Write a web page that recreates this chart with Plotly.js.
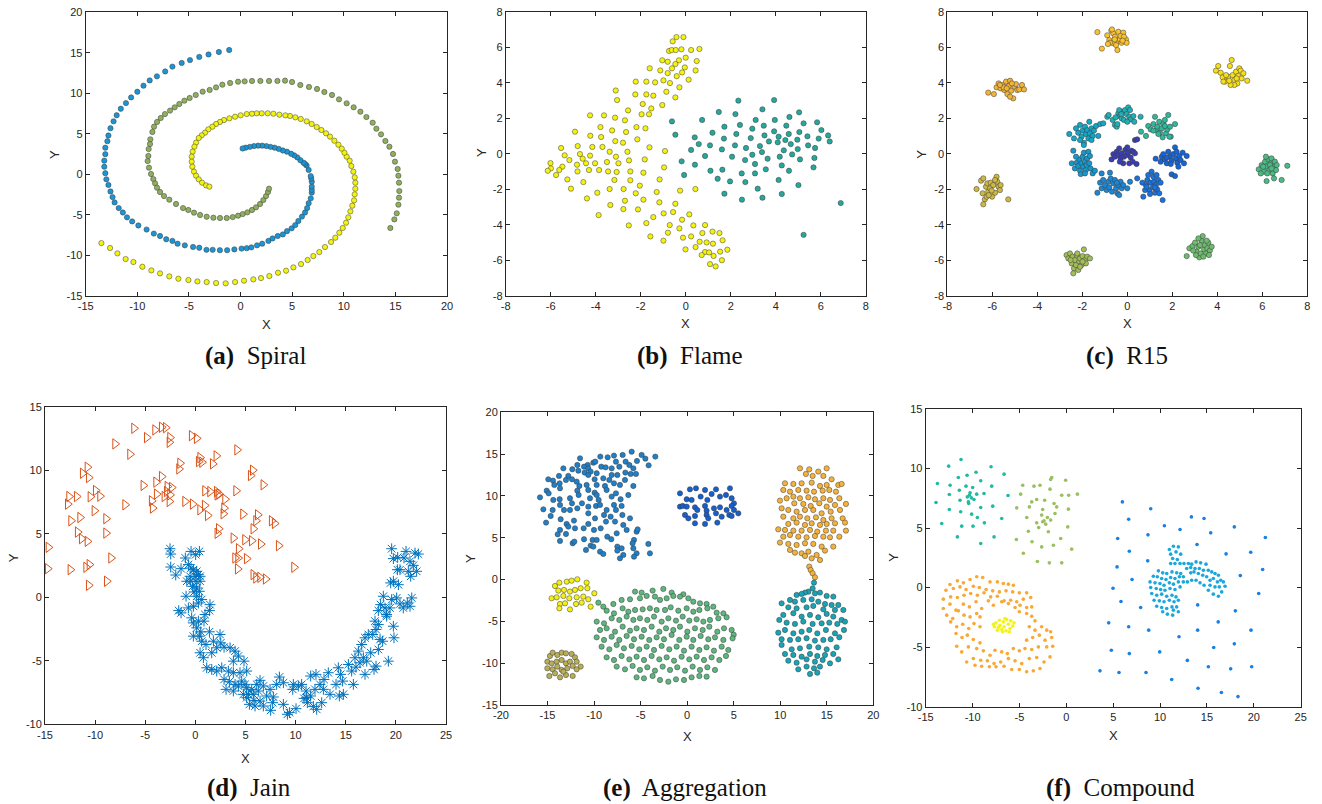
<!DOCTYPE html>
<html><head><meta charset="utf-8">
<script src="https://cdn.plot.ly/plotly-3.0.1.min.js"></script>
<style>html,body{margin:0;padding:0;background:#fff}#chart{width:1322px;height:804px}</style>
</head><body><div id="chart"></div>
<script>
// ---------- (a) Spiral ----------
const spiralBlue=[[-1.1,15.35],[-2.1,15.1],[-3.1,14.8],[-4.0,14.5],[-4.9,14.1],[-5.7,13.75],[-6.6,13.3],[-7.3,12.7],[-8.1,12.1],[-8.8,11.6],[-9.4,10.95],[-10.0,10.2],[-10.6,9.5],[-11.1,8.8],[-11.6,8.1],[-12.0,7.3],[-12.3,6.55],[-12.6,5.7],[-12.8,4.8],[-12.9,4.1],[-13.1,3.3],[-13.1,2.5],[-13.2,1.7],[-13.2,0.95],[-13.1,0.15],[-13.0,-0.6],[-12.8,-1.3],[-12.6,-2.1],[-12.4,-2.8],[-12.2,-3.45],[-11.8,-4.15],[-11.4,-4.7],[-11.0,-5.3],[-10.5,-5.8],[-9.9,-6.3],[-9.1,-6.8],[-8.4,-7.3],[-7.8,-7.6],[-7.2,-8.0],[-6.6,-8.2],[-6.1,-8.55],[-5.4,-8.75],[-4.6,-8.95],[-4.0,-9.05],[-3.3,-9.3],[-2.7,-9.3],[-2.0,-9.35],[-1.3,-9.35],[-0.6,-9.25],[0.1,-9.15],[0.6,-9.1],[1.05,-9.0],[1.6,-8.75],[2.1,-8.55],[2.7,-8.2],[3.1,-7.9],[3.6,-7.6],[4.1,-7.4],[4.5,-7.0],[4.95,-6.65],[5.3,-6.25],[5.6,-5.75],[5.95,-5.2],[6.25,-4.7],[6.45,-4.15],[6.6,-3.55],[6.8,-2.95],[6.9,-2.25],[6.9,-1.9],[6.9,-1.5],[6.9,-0.9],[6.85,-0.5],[6.8,-0.2],[6.6,0.55],[6.4,1.1],[6.25,1.3],[6.1,1.45],[5.8,1.75],[5.5,2.1],[5.2,2.35],[4.9,2.55],[4.5,2.8],[4.1,2.95],[3.7,3.15],[3.3,3.3],[2.9,3.4],[2.5,3.5],[2.1,3.55],[1.7,3.55],[1.3,3.5],[0.9,3.4],[0.5,3.3],[0.2,3.2]];
const spiralOlive=[[14.51,-6.61],[14.9,-5.55],[15.13,-4.8],[15.29,-3.73],[15.35,-2.87],[15.38,-2.05],[15.35,-1.02],[15.29,-0.16],[15.22,0.67],[14.96,1.57],[14.77,2.52],[14.42,3.42],[14.03,4.12],[13.61,4.94],[13.16,5.64],[12.8,6.38],[12.19,7.08],[11.61,7.74],[10.96,8.28],[10.28,8.77],[9.54,9.26],[8.86,9.8],[8.12,10.17],[7.41,10.54],[6.63,10.79],[5.79,11.03],[4.99,11.4],[4.31,11.57],[3.57,11.53],[2.76,11.53],[1.92,11.53],[1.11,11.53],[0.4,11.48],[-0.24,11.44],[-1.01,11.28],[-1.76,11.07],[-2.37,10.74],[-2.99,10.42],[-3.67,10.21],[-4.34,9.8],[-4.93,9.43],[-5.44,9.1],[-5.93,8.69],[-6.38,8.28],[-6.83,7.87],[-7.32,7.45],[-7.73,6.96],[-8.09,6.47],[-8.38,5.89],[-8.54,5.23],[-8.74,4.33],[-8.77,3.75],[-8.9,3.13],[-8.93,2.27],[-9.0,1.65],[-8.87,0.83],[-8.67,0.05],[-8.45,-0.57],[-8.28,-1.1],[-8.09,-1.64],[-7.8,-2.17],[-7.41,-2.67],[-6.9,-3.12],[-6.25,-3.65],[-5.57,-4.15],[-5.06,-4.39],[-4.51,-4.72],[-3.92,-5.01],[-3.28,-5.22],[-2.63,-5.34],[-1.99,-5.38],[-1.34,-5.38],[-0.76,-5.26],[-0.24,-5.09],[0.21,-4.89],[0.66,-4.68],[1.11,-4.39],[1.5,-4.06],[1.89,-3.65],[2.21,-3.16],[2.47,-2.67],[2.66,-2.17],[2.76,-1.76]];
const spiralYellow=[[-13.48,-8.47],[-12.64,-9.08],[-11.93,-9.74],[-11.13,-10.44],[-10.38,-10.81],[-9.51,-11.39],[-8.64,-11.84],[-7.8,-12.21],[-6.9,-12.58],[-6.02,-12.87],[-5.05,-13.03],[-4.18,-13.2],[-3.28,-13.28],[-2.37,-13.4],[-1.44,-13.44],[-0.53,-13.28],[0.34,-13.11],[1.24,-12.95],[1.98,-12.79],[2.79,-12.54],[3.63,-12.13],[4.41,-11.88],[5.12,-11.47],[5.86,-11.06],[6.5,-10.56],[7.05,-10.07],[7.63,-9.58],[8.18,-8.96],[8.77,-8.34],[9.18,-7.81],[9.57,-7.19],[9.9,-6.61],[10.22,-5.96],[10.44,-5.3],[10.64,-4.56],[10.83,-3.86],[11.0,-3.2],[11.06,-2.46],[11.12,-1.76],[11.12,-1.02],[11.06,-0.36],[10.93,0.34],[10.73,1.04],[10.57,1.69],[10.28,2.19],[10.06,2.68],[9.8,3.18],[9.48,3.67],[9.09,4.16],[8.67,4.66],[8.28,5.07],[7.83,5.48],[7.38,5.85],[6.89,6.22],[6.41,6.55],[5.83,6.84],[5.31,7.04],[4.79,7.21],[4.34,7.29],[3.76,7.37],[3.18,7.49],[2.63,7.54],[2.05,7.54],[1.56,7.54],[1.11,7.49],[0.6,7.45],[0.01,7.29],[-0.53,7.12],[-1.08,6.92],[-1.6,6.71],[-1.99,6.47],[-2.37,6.22],[-2.73,5.89],[-3.12,5.56],[-3.44,5.15],[-3.76,4.82],[-4.05,4.49],[-4.31,3.92],[-4.47,3.42],[-4.64,2.81],[-4.73,2.19],[-4.73,1.57],[-4.67,0.95],[-4.51,0.34],[-4.31,-0.16],[-4.05,-0.61],[-3.73,-1.02],[-3.34,-1.35],[-3.02,-1.51]];

// ---------- (b) Flame ----------
const flameYellow=[[-0.41,6.57],[-0.1,6.57],[-0.58,6.33],[-0.74,5.79],[-0.62,5.84],[-0.44,5.84],[-0.19,5.88],[0.24,5.84],[0.61,5.9],[0.0,5.41],[-0.3,5.26],[-1.04,5.26],[-0.8,5.18],[0.49,5.22],[-0.46,5.05],[-1.6,4.81],[-1.13,4.69],[-0.61,4.81],[-0.04,4.86],[0.44,4.69],[-0.8,4.54],[-0.16,4.58],[-0.4,4.37],[-2.22,4.06],[-1.75,4.06],[-1.36,4.02],[-0.99,4.13],[-0.7,3.98],[0.13,4.17],[-0.28,3.74],[-0.86,3.49],[-3.11,3.56],[-2.24,3.34],[-1.75,3.34],[-1.44,3.27],[-0.46,3.17],[-3.05,3.02],[-1.91,2.8],[-1.53,2.55],[-1.04,2.74],[-2.56,2.44],[-4.25,2.16],[-3.63,2.16],[-1.96,2.22],[-1.63,2.22],[-3.14,2.03],[-2.7,1.88],[-3.79,1.5],[-3.27,1.31],[-2.19,1.5],[-1.79,1.43],[-4.92,1.24],[-2.65,1.22],[-4.24,1.01],[-3.76,0.94],[-2.15,0.81],[-3.13,0.71],[-2.79,0.62],[-4.8,0.43],[-4.15,0.38],[-3.7,0.38],[-1.61,0.36],[-5.54,0.32],[-3.38,0.11],[-0.92,0.15],[-2.59,0.11],[-4.7,-0.02],[-5.38,-0.09],[-4.25,-0.11],[-3.1,-0.17],[-5.17,-0.36],[-4.58,-0.28],[-1.82,-0.32],[-6.01,-0.53],[-4.43,-0.54],[-4.03,-0.54],[-3.5,-0.47],[-2.99,-0.54],[-2.52,-0.38],[-5.48,-0.73],[-4.83,-0.62],[-4.3,-0.92],[-5.99,-0.83],[-5.62,-0.92],[-6.13,-0.96],[-4.81,-1.0],[-3.85,-0.92],[-3.45,-1.0],[-3.07,-1.03],[-2.46,-1.0],[-0.96,-0.77],[-5.76,-1.2],[-1.88,-1.07],[-5.26,-1.45],[-4.55,-1.6],[-3.17,-1.48],[-2.46,-1.5],[-1.16,-1.45],[-2.04,-1.8],[-5.1,-1.97],[-3.38,-1.99],[-2.76,-1.99],[-2.22,-2.23],[-1.29,-2.16],[-0.25,-2.08],[0.43,-1.99],[-3.93,-2.2],[-4.39,-2.52],[-1.88,-2.59],[-2.7,-2.65],[-1.17,-2.74],[-0.46,-2.82],[-3.35,-2.89],[-2.12,-3.14],[-2.77,-3.12],[-3.87,-3.46],[-1.44,-3.57],[-0.98,-3.36],[-0.56,-3.29],[0.16,-3.42],[-0.16,-3.72],[-2.53,-4.04],[-1.75,-3.91],[-0.71,-4.02],[0.34,-4.04],[0.86,-4.02],[-0.28,-4.21],[0.74,-4.47],[1.19,-4.39],[1.5,-4.47],[-0.79,-4.45],[-1.57,-4.66],[-0.99,-4.9],[-0.12,-4.73],[0.24,-4.66],[0.62,-4.96],[0.93,-5.0],[1.21,-5.07],[1.64,-4.88],[0.44,-5.26],[-0.01,-5.39],[1.53,-5.52],[0.86,-5.54],[1.04,-5.56],[1.85,-5.41],[0.71,-5.71],[1.24,-5.76],[1.61,-6.0],[1.08,-6.22],[1.33,-6.35]];
const flameTeal=[[-0.61,1.82],[-0.46,1.07],[0.73,1.9],[1.47,2.35],[2.34,2.99],[3.93,3.02],[3.41,2.5],[2.21,2.23],[5.04,2.33],[4.61,2.07],[3.11,1.9],[3.96,1.9],[2.41,1.62],[3.47,1.58],[4.47,1.58],[5.24,1.71],[5.84,1.77],[1.72,1.52],[6.03,1.33],[1.19,1.18],[2.25,1.11],[2.96,1.41],[3.93,1.26],[5.05,1.22],[0.4,0.92],[1.7,0.85],[3.5,1.03],[4.13,0.96],[4.58,1.11],[5.41,0.98],[6.33,1.03],[0.58,0.54],[1.08,0.47],[2.19,0.47],[2.89,0.88],[3.7,0.69],[4.09,0.64],[4.43,0.77],[4.96,0.79],[4.67,0.54],[5.91,0.85],[6.4,0.69],[1.61,0.24],[2.68,0.32],[3.3,0.43],[0.24,0.21],[4.36,0.19],[4.98,0.26],[5.44,0.47],[5.75,0.32],[0.86,-0.13],[2.06,-0.17],[2.96,-0.06],[3.39,0.09],[4.18,-0.17],[4.73,-0.04],[-0.18,-0.43],[2.64,-0.36],[3.64,-0.28],[5.08,-0.32],[5.72,-0.24],[0.41,-0.62],[3.08,-0.58],[4.27,-0.66],[1.1,-0.96],[1.63,-0.9],[2.49,-1.11],[3.08,-1.11],[3.56,-0.88],[4.59,-0.96],[5.68,-0.77],[-0.07,-1.2],[1.42,-1.41],[1.97,-1.56],[2.65,-1.6],[4.13,-1.48],[5.01,-1.77],[3.2,-1.97],[1.72,-2.25],[4.27,-2.27],[2.5,-2.59],[3.41,-2.48],[6.89,-2.78],[5.24,-4.57]];

// ---------- (c) R15 ----------
const r15Top=[[-1.33,6.85],[-1.13,5.92],[-0.89,6.67],[-0.8,6.4],[-0.71,6.93],[-0.62,6.78],[-0.55,6.59],[-0.47,6.31],[-0.4,6.87],[-0.33,6.44],[-0.25,6.25],[-0.18,6.82],[-0.06,6.44],[-0.03,6.25],[-0.44,5.84],[-0.62,6.22],[-0.77,6.25],[-0.5,6.12],[-0.3,6.63],[-0.15,6.59],[-0.86,6.18],[-0.68,7.0],[-0.56,6.44],[-0.21,6.37]];
const r15TopRight=[[3.94,4.68],[4.04,4.94],[4.15,4.56],[4.24,4.3],[4.34,4.06],[4.49,4.34],[4.56,4.94],[4.64,5.28],[4.68,4.43],[4.76,4.15],[4.83,4.62],[4.89,3.96],[4.93,4.38],[4.98,4.81],[5.04,4.68],[5.08,4.24],[5.16,4.53],[5.33,4.11],[4.76,3.87],[4.59,3.87],[4.39,4.43],[4.27,4.06],[4.86,4.24],[4.53,4.11]];
const r15LeftTop=[[-6.18,3.44],[-5.93,3.36],[-5.81,3.74],[-5.72,3.96],[-5.63,3.68],[-5.54,3.87],[-5.47,3.59],[-5.39,4.06],[-5.33,3.36],[-5.27,3.81],[-5.21,4.11],[-5.16,3.55],[-5.07,3.12],[-5.01,3.77],[-4.95,3.92],[-4.89,3.59],[-4.8,3.62],[-4.68,3.87],[-4.59,3.62],[-5.21,3.21],[-5.51,3.74],[-5.66,3.87],[-5.13,3.96],[-5.36,3.68]];
const r15Right=[[5.84,-0.88],[5.97,-0.64],[6.07,-1.01],[6.12,-0.45],[6.19,-0.73],[6.27,-0.32],[6.31,-0.92],[6.37,-0.54],[6.41,-0.26],[6.46,-1.11],[6.49,-0.73],[6.56,-0.45],[6.64,-0.64],[6.19,-1.54],[6.52,-1.39],[6.86,-1.48],[7.11,-0.68],[6.04,-0.73],[6.34,-0.64],[6.22,-1.11],[5.93,-1.11],[6.61,-0.92],[6.16,-0.17],[6.41,-0.83]];
const r15LeftBottom=[[-6.7,-1.99],[-6.5,-1.52],[-6.4,-1.39],[-6.43,-2.23],[-6.33,-2.57],[-6.4,-2.85],[-6.28,-1.86],[-6.22,-1.67],[-6.18,-2.14],[-6.1,-1.95],[-6.07,-1.63],[-6.01,-2.42],[-5.96,-1.77],[-5.88,-2.2],[-5.81,-1.3],[-5.78,-1.58],[-5.72,-1.86],[-5.66,-2.05],[-5.63,-1.77],[-5.29,-2.57],[-6.25,-2.42],[-6.03,-2.08],[-5.88,-1.48],[-6.16,-2.33]];
const r15BottomRight=[[2.64,-5.77],[2.76,-5.33],[2.9,-5.2],[3.01,-5.01],[3.08,-5.52],[3.16,-5.24],[3.2,-5.84],[3.26,-5.62],[3.3,-4.9],[3.35,-4.64],[3.41,-5.39],[3.45,-5.15],[3.5,-5.62],[3.56,-5.33],[3.6,-5.01],[3.67,-5.46],[3.75,-5.24],[3.05,-5.71],[3.23,-5.15],[3.38,-5.8],[2.93,-5.46],[3.53,-4.9],[3.16,-4.77],[3.63,-5.71]];
const r15Bottom=[[-2.7,-5.71],[-2.62,-5.9],[-2.55,-5.62],[-2.47,-6.18],[-2.43,-5.8],[-2.37,-6.46],[-2.33,-5.99],[-2.28,-6.27],[-2.25,-5.71],[-2.22,-5.62],[-2.18,-6.55],[-2.13,-6.08],[-2.1,-5.9],[-2.03,-6.27],[-1.99,-5.77],[-1.93,-5.39],[-1.88,-5.99],[-1.84,-6.18],[-1.78,-5.8],[-1.66,-5.9],[-2.4,-6.74],[-2.1,-6.37],[-2.52,-5.99],[-1.99,-6.08]];
const r15InTop=[[-0.89,2.08],[-0.83,2.18],[-0.65,1.9],[-0.55,1.62],[-0.47,1.52],[-0.44,1.67],[-0.4,2.27],[-0.33,2.12],[-0.25,1.99],[-0.18,2.37],[-0.1,2.46],[-0.03,2.23],[0.04,2.61],[0.09,2.08],[0.15,1.93],[0.12,2.46],[0.27,2.12],[0.31,1.8],[0.59,2.08],[-0.36,2.46],[-0.15,1.9],[0.0,1.8],[-0.52,2.05],[-0.27,2.23]];
const r15InUpRight=[[0.61,1.24],[0.83,1.0],[0.93,1.56],[1.04,1.37],[1.16,1.67],[1.23,2.08],[1.27,1.33],[1.33,1.52],[1.42,1.8],[1.45,1.18],[1.53,1.43],[1.6,1.67],[1.67,1.9],[1.72,1.15],[1.78,1.37],[1.82,2.18],[1.9,1.52],[1.93,0.96],[2.12,1.67],[1.87,0.96],[1.57,0.92],[1.38,1.11],[1.16,1.3],[1.67,1.56]];
const r15InRight=[[1.26,-0.28],[1.48,-0.45],[1.53,-0.17],[1.6,-0.02],[1.67,-0.32],[1.75,-0.54],[1.82,0.11],[1.9,-0.17],[1.97,-0.39],[2.04,-0.02],[2.12,0.36],[2.16,-0.26],[2.22,-0.51],[2.31,-0.13],[2.37,-0.36],[2.46,0.06],[2.52,-0.54],[2.64,-0.13],[2.27,-0.73],[1.97,-1.16],[2.12,-1.26],[1.75,-0.21],[2.19,0.11],[1.93,-0.58]];
const r15InLowRight=[[0.44,-1.39],[0.67,-1.63],[0.71,-2.42],[0.83,-1.77],[0.89,-1.48],[0.93,-1.2],[0.98,-2.05],[1.04,-1.63],[1.08,-1.01],[1.13,-1.9],[1.19,-1.58],[1.23,-2.2],[1.27,-1.77],[1.33,-2.01],[1.38,-1.48],[1.42,-2.23],[1.48,-1.63],[1.57,-2.61],[0.79,-2.05],[1.16,-1.3],[1.3,-1.2],[1.01,-2.27],[0.86,-1.86],[1.23,-1.9]];
const r15InLowLeft=[[-1.33,-2.2],[-1.21,-1.63],[-1.14,-1.95],[-1.07,-1.48],[-0.99,-1.77],[-0.92,-2.05],[-0.84,-1.58],[-0.8,-1.9],[-0.74,-1.39],[-0.68,-2.14],[-0.62,-1.67],[-0.55,-1.48],[-0.5,-1.95],[-0.44,-2.23],[-0.4,-1.77],[-0.36,-2.33],[-0.3,-1.58],[-0.25,-1.95],[-0.18,-1.77],[0.0,-1.95],[0.12,-1.58],[-1.14,-1.11],[-0.77,-1.07],[-0.47,-1.63]];
const r15InLeft=[[-2.47,-0.54],[-2.4,0.17],[-2.33,-0.83],[-2.25,-0.51],[-2.18,-0.69],[-2.13,-0.32],[-2.1,-0.96],[-2.03,-0.54],[-1.99,-0.17],[-1.96,-0.73],[-1.93,0.06],[-1.88,-0.45],[-1.84,-0.92],[-1.81,-0.64],[-1.78,-0.26],[-1.73,0.11],[-1.69,-0.54],[-1.63,-0.83],[-1.54,-1.11],[-1.44,-0.96],[-1.66,-0.13],[-2.07,-1.15],[-2.28,-0.17],[-1.88,-1.11]];
const r15InUpLeft=[[-2.58,1.11],[-2.37,0.86],[-2.28,1.43],[-2.18,1.18],[-2.1,1.62],[-2.03,0.96],[-1.99,1.3],[-1.93,0.62],[-1.88,1.52],[-1.84,1.11],[-1.78,1.33],[-1.73,0.86],[-1.69,1.8],[-1.66,1.15],[-1.59,1.43],[-1.54,1.0],[-1.48,1.3],[-1.39,1.56],[-1.29,1.0],[-1.21,1.67],[-1.07,1.71],[-1.93,0.49],[-2.1,0.77],[-1.59,0.77]];
const r15Center=[[-0.7,-0.32],[-0.62,-0.02],[-0.55,-0.17],[-0.47,0.11],[-0.4,-0.08],[-0.36,0.3],[-0.3,-0.26],[-0.25,0.02],[-0.18,-0.54],[-0.15,-0.17],[-0.09,0.21],[-0.03,-0.08],[0.04,0.06],[0.09,-0.54],[0.15,-0.21],[0.19,0.17],[0.27,0.11],[0.34,0.02],[0.41,-0.58],[0.34,0.77],[0.44,0.81],[0.0,0.36],[-0.33,-0.45],[0.24,-0.45]];

// ---------- (d) Jain ----------
const jainOrange=[[-6.12,13.3],[-4.85,12.57],[-4.02,13.17],[-3.36,13.38],[-2.96,13.35],[-2.53,12.57],[-2.59,12.2],[-0.37,12.72],[0.13,12.51],[-8.01,12.07],[-6.52,11.26],[-1.53,10.55],[-1.63,10.1],[0.47,10.99],[0.33,10.68],[0.66,10.63],[2.09,11.13],[1.73,10.5],[4.16,11.6],[-10.77,10.24],[-11.24,9.76],[-10.64,9.42],[5.72,10.0],[5.52,9.58],[6.78,8.85],[-5.19,8.8],[-3.92,9.06],[-3.36,9.5],[-2.79,8.72],[-2.36,8.64],[-2.86,8.32],[-9.94,8.4],[-10.47,7.91],[-9.51,7.96],[-12.6,7.93],[-11.84,7.93],[-12.73,7.33],[-7.01,7.28],[-4.36,7.59],[-3.86,8.12],[-3.09,7.93],[-2.53,8.06],[-2.59,7.54],[-4.26,7.02],[-1.03,7.54],[-0.27,7.33],[0.47,6.88],[0.93,7.23],[0.96,8.38],[1.46,8.32],[2.13,8.32],[2.19,8.06],[2.36,8.12],[2.96,7.72],[2.86,7.02],[2.79,6.57],[4.06,8.38],[1.23,6.44],[4.75,6.54],[6.22,6.49],[6.05,6.02],[7.61,6.02],[7.91,5.81],[-10.07,6.81],[-11.5,6.28],[-12.4,6.02],[-8.91,6.18],[-11.74,5.13],[-11.34,4.61],[-10.77,4.4],[-8.91,5.05],[2.33,5.39],[2.19,5.03],[5.78,5.39],[3.79,4.66],[4.95,4.53],[5.62,4.45],[6.52,4.19],[4.32,3.82],[4.26,3.09],[3.96,3.09],[5.12,3.04],[8.31,4.06],[4.22,2.23],[5.78,1.78],[6.05,1.52],[6.45,1.57],[7.01,1.44],[9.84,2.36],[-14.66,3.93],[-14.73,2.25],[-12.47,2.17],[-10.9,2.36],[-10.57,2.57],[-8.41,3.09],[-10.64,0.94],[-8.84,1.26]];
const jainBlue=[[-2.53,3.82],[-2.46,3.4],[-2.46,2.38],[-1.96,1.75],[-1.43,2.25],[-1.0,3.09],[-0.43,3.61],[0.4,3.61],[0.03,3.35],[-0.7,2.57],[-0.43,2.3],[-0.2,2.17],[0.13,2.04],[0.3,1.78],[0.47,1.65],[-0.03,1.65],[-0.53,1.65],[-0.86,1.26],[-0.47,1.26],[0.07,1.26],[0.47,1.26],[-0.27,0.86],[0.13,0.73],[0.4,0.47],[-0.13,0.42],[-0.93,0.08],[0.13,0.08],[-1.66,-1.05],[-1.43,-1.23],[-0.7,-0.84],[-0.2,-0.71],[0.3,-0.45],[0.63,-0.18],[1.46,-0.58],[1.4,-1.05],[0.96,-1.36],[-0.37,-1.62],[-0.2,-2.02],[0.3,-1.88],[0.86,-1.88],[0.13,-2.41],[0.53,-2.72],[-0.2,-3.06],[0.4,-3.06],[1.4,-2.72],[0.63,-3.46],[1.06,-3.72],[1.8,-3.46],[0.47,-4.37],[0.8,-4.76],[1.63,-4.37],[2.13,-3.98],[2.46,-2.93],[2.53,-3.59],[2.86,-3.93],[3.46,-3.98],[3.96,-4.24],[4.29,-4.63],[3.79,-5.03],[4.85,-5.03],[1.13,-5.55],[1.63,-5.68],[2.13,-5.81],[2.63,-5.55],[3.29,-5.81],[3.79,-5.94],[4.45,-5.94],[5.12,-5.81],[2.86,-6.47],[3.39,-6.65],[3.96,-6.86],[4.62,-6.6],[3.06,-7.25],[3.79,-7.38],[4.29,-6.99],[4.79,-7.64],[5.12,-7.91],[5.62,-7.25],[6.12,-6.86],[6.45,-6.54],[6.78,-6.99],[5.39,-8.43],[5.95,-8.56],[6.45,-8.17],[7.11,-7.77],[7.45,-7.25],[8.11,-6.86],[8.38,-6.28],[8.78,-6.73],[7.71,-8.3],[7.51,-8.9],[6.78,-8.56],[7.78,-7.85],[8.78,-8.43],[9.18,-9.21],[9.38,-9.08],[9.71,-7.25],[9.77,-6.86],[10.27,-6.99],[10.04,-8.77],[10.6,-6.86],[11.04,-7.38],[10.84,-7.96],[11.17,-8.3],[11.5,-7.77],[11.93,-7.25],[12.03,-6.07],[11.5,-6.2],[12.43,-6.86],[12.6,-8.3],[12.83,-6.47],[12.77,-7.25],[13.26,-5.94],[13.43,-7.64],[14.03,-6.86],[14.26,-5.55],[14.36,-7.77],[14.76,-7.64],[14.49,-6.07],[14.69,-6.6],[15.26,-5.29],[15.59,-5.81],[15.76,-6.86],[15.92,-4.76],[16.02,-5.5],[16.26,-4.24],[16.42,-5.16],[16.76,-4.76],[16.92,-6.07],[17.09,-5.03],[17.49,-4.37],[17.82,-5.68],[18.02,-5.42],[18.25,-4.11],[18.42,-3.32],[16.59,-3.72],[16.92,-3.19],[17.25,-2.93],[17.69,-2.93],[18.02,-2.54],[18.25,-2.15],[17.92,-1.88],[18.25,-1.05],[18.48,-0.58],[18.75,0.08],[18.92,-0.84],[19.08,-1.36],[19.41,-0.84],[19.75,-2.28],[19.81,-3.19],[19.25,-5.03],[18.68,-3.46],[19.08,-1.49],[19.58,-0.18],[20.08,-0.05],[20.41,-0.52],[20.74,-0.84],[21.14,-0.45],[21.58,-0.05],[21.41,-0.71],[19.48,1.13],[19.75,1.26],[20.25,0.99],[20.41,2.17],[20.15,2.17],[21.24,2.04],[22.07,2.04],[21.74,2.51],[21.48,1.65],[19.58,3.82],[19.75,3.04],[20.18,3.14],[20.81,3.09],[21.01,3.61],[21.41,2.83],[21.91,3.48],[22.24,3.4],[5.12,-7.12],[5.78,-7.64],[6.28,-7.38],[4.95,-6.86],[5.29,-7.64],[5.85,-8.12],[11.1,-7.9],[11.77,-8.59],[12.1,-8.82]];

// ---------- (e) Aggregation ----------
const aggTopLeft=[[-5.96,15.29],[-6.93,14.9],[-7.86,14.82],[-9.33,14.7],[-8.54,14.62],[-4.89,14.9],[-4.49,14.46],[-3.42,14.7],[-11.51,14.5],[-7.65,14.1],[-6.61,14.1],[-5.39,14.18],[-4.14,13.66],[-10.69,13.7],[-10.08,13.98],[-11.8,13.7],[-11.08,13.5],[-10.62,13.3],[-10.37,12.91],[-9.87,14.1],[-13.3,13.3],[-12.34,13.19],[-11.69,13.02],[-9.22,13.5],[-8.76,13.42],[-8.11,13.3],[-7.29,13.5],[-6.21,13.7],[-5.78,13.3],[-6.07,12.63],[-5.5,12.63],[-8.11,12.5],[-7.5,12.5],[-6.64,12.79],[-9.72,12.71],[-9.01,12.11],[-11.01,12.79],[-10.62,12.51],[-9.94,11.99],[-12.77,12.39],[-12.37,11.99],[-13.77,12.39],[-14.41,11.83],[-13.7,11.51],[-13.02,11.91],[-11.87,11.71],[-11.58,11.19],[-10.8,11.31],[-9.72,11.31],[-8.83,11.19],[-7.86,11.51],[-7.22,11.31],[-6.68,11.91],[-5.78,11.19],[-8.36,11.91],[-14.92,11.99],[-14.27,11.31],[-13.66,10.91],[-15.81,9.83],[-15.09,10.63],[-14.88,10.31],[-14.38,9.52],[-13.7,9.6],[-12.59,9.72],[-11.8,10.63],[-11.66,10.11],[-10.62,10.71],[-9.94,10.39],[-9.72,10.11],[-10.44,9.72],[-8.65,10.71],[-8.11,9.92],[-7.65,10.31],[-7.15,9.6],[-6.32,10.11],[-9.51,9.52],[-15.45,8.4],[-14.45,8.32],[-13.66,8.92],[-13.23,8.32],[-12.37,9.12],[-12.59,8.32],[-11.8,8.52],[-11.3,9.12],[-10.62,8.72],[-9.79,8.8],[-10.62,7.92],[-9.36,8.92],[-8.65,8.32],[-7.86,8.92],[-7.04,8.8],[-7.65,8.32],[-8.22,7.52],[-8.93,7.72],[-9.9,7.32],[-6.96,7.72],[-6.14,7.32],[-14.66,7.6],[-13.59,7.21],[-12.95,6.65],[-12.16,7.05],[-12.05,6.13],[-13.66,5.93],[-13.91,5.41],[-13.02,5.45],[-12.77,6.33],[-11.12,6.13],[-10.62,6.65],[-10.01,5.93],[-9.29,6.13],[-8.72,6.93],[-7.75,6.93],[-6.86,6.53],[-6.5,5.93],[-5.43,5.73],[-5.32,6.01],[-7.57,5.53],[-8.58,5.13],[-8.15,4.82],[-13.66,4.62],[-12.3,4.34],[-12.12,4.54],[-11.08,4.82],[-10.15,4.74],[-9.72,4.74],[-10.37,4.06],[-10.08,3.94],[-10.87,3.54],[-9.36,3.34],[-9.01,3.06],[-7.5,3.94],[-7.04,3.74],[-7.5,3.46],[-6.86,2.94],[-7.22,2.54],[-5.78,3.74],[-5.71,4.74],[-5.86,4.34],[-5.43,3.14],[-5.71,2.74],[-4.17,4.26],[-4.0,3.14],[-15.16,6.81]];
const aggTopMid=[[-0.77,10.31],[0.3,10.79],[0.95,10.91],[1.92,10.71],[3.1,10.79],[4.6,10.91],[-0.05,9.6],[0.48,9.52],[1.45,9.92],[2.17,9.52],[2.63,10.23],[3.53,9.92],[4.17,10.11],[4.78,9.72],[5.03,9.12],[-0.77,8.72],[-0.48,8.8],[-0.05,8.72],[0.84,8.64],[1.09,8.32],[1.92,8.8],[2.09,8.24],[2.88,8.52],[3.53,8.64],[4.24,8.32],[4.78,8.8],[5.03,8.32],[-0.23,7.72],[0.13,7.32],[0.84,7.6],[2.09,7.72],[2.27,7.32],[3.1,7.92],[3.71,7.52],[4.53,7.72],[4.78,7.6],[5.5,7.92],[0.84,6.73],[1.92,6.65],[3.24,6.81]];
const aggTopRight=[[12.12,13.3],[13.12,13.18],[14.09,12.91],[14.99,13.3],[12.76,12.63],[13.48,12.39],[14.63,12.39],[15.52,11.99],[10.51,11.51],[11.41,11.43],[12.3,11.51],[13.38,11.59],[14.27,11.19],[14.99,11.31],[16.24,11.31],[16.6,11.43],[10.33,10.71],[11.05,10.51],[11.94,10.71],[12.83,10.63],[13.63,10.51],[14.56,10.63],[15.27,10.71],[15.99,10.51],[10.69,9.72],[11.41,9.92],[12.12,9.72],[13.02,9.84],[13.73,9.6],[14.63,9.72],[15.35,9.52],[16.35,9.72],[9.97,9.44],[11.51,9.12],[12.48,9.04],[13.27,8.8],[14.2,9.12],[14.99,8.72],[15.88,8.92],[17.06,9.04],[10.15,8.52],[10.87,8.32],[11.76,8.12],[12.66,8.32],[13.55,8.32],[14.45,7.92],[15.42,8.12],[16.42,8.32],[10.33,7.52],[11.41,7.32],[12.12,7.52],[12.91,7.32],[13.84,7.44],[14.63,7.12],[15.52,7.32],[16.71,7.32],[10.87,6.65],[11.76,6.81],[12.66,6.53],[13.38,6.73],[14.27,6.53],[14.99,6.65],[15.88,6.73],[16.96,6.81],[9.79,6.01],[10.51,5.93],[11.41,5.85],[12.3,5.85],[13.2,5.93],[13.98,5.73],[14.91,5.85],[15.7,5.85],[17.06,5.85],[10.33,5.13],[11.05,5.33],[11.94,5.13],[12.83,5.05],[13.73,5.21],[14.63,5.13],[15.35,5.05],[16.35,5.13],[9.97,4.42],[10.87,4.26],[11.76,4.14],[12.66,4.34],[13.55,4.26],[14.45,3.94],[15.7,3.94],[11.05,3.54],[11.58,3.22],[12.3,3.14],[13.02,3.34],[13.91,2.94],[14.81,3.46],[12.66,2.82],[13.38,2.54],[14.27,2.34],[13.12,1.55],[13.27,1.15],[13.48,0.75],[13.73,0.27]];
const aggBottomRight=[[13.63,-0.37],[13.48,-1.05],[13.02,-1.45],[13.73,-1.65],[12.66,-1.56],[11.76,-1.84],[12.3,-1.72],[14.27,-1.56],[14.99,-1.96],[15.7,-2.04],[11.05,-2.44],[11.58,-2.64],[12.48,-2.44],[13.38,-2.36],[14.09,-2.64],[14.81,-2.92],[15.52,-3.04],[16.24,-3.04],[10.15,-2.84],[10.87,-3.32],[11.76,-3.44],[12.83,-3.32],[13.55,-3.16],[14.63,-3.56],[15.88,-3.64],[16.78,-3.64],[10.33,-4.23],[11.41,-4.03],[12.3,-4.43],[13.2,-4.23],[14.09,-4.51],[14.99,-4.11],[15.7,-4.43],[16.6,-4.83],[9.9,-4.83],[10.69,-5.15],[11.58,-5.31],[12.48,-5.03],[13.48,-5.31],[14.45,-5.23],[15.27,-5.15],[16.13,-5.31],[16.96,-5.03],[9.79,-6.35],[10.51,-6.03],[11.41,-6.43],[12.3,-6.23],[13.12,-6.03],[13.98,-6.43],[14.91,-6.03],[15.88,-6.43],[16.85,-6.03],[10.15,-7.14],[11.05,-7.22],[11.94,-7.14],[12.83,-7.02],[13.73,-7.3],[14.63,-7.22],[15.42,-7.14],[16.35,-6.9],[10.15,-7.82],[11.23,-8.34],[12.12,-8.22],[13.12,-8.02],[14.09,-8.1],[14.99,-8.34],[16.06,-8.1],[10.51,-8.9],[11.41,-9.02],[12.3,-9.22],[13.2,-8.9],[13.98,-9.14],[14.81,-9.02],[15.7,-8.9],[10.87,-9.7],[11.76,-9.94],[12.83,-9.54],[13.73,-9.82],[14.56,-9.62],[15.35,-10.02],[16.24,-9.54],[11.94,-10.73],[12.83,-10.41],[13.63,-10.61],[14.27,-10.41],[13.98,-11.13],[13.2,-11.29]];
const aggSmallLeft=[[-14.2,-0.77],[-13.73,-0.37],[-12.94,-0.25],[-12.41,-0.13],[-11.8,0.03],[-10.8,-0.37],[-13.84,-1.32],[-13.23,-1.24],[-12.59,-1.44],[-12.05,-1.24],[-11.44,-1.04],[-10.72,-1.04],[-9.97,-1.64],[-14.56,-2.24],[-14.02,-2.12],[-13.3,-1.96],[-12.66,-2.24],[-11.87,-2.12],[-11.16,-2.04],[-10.62,-2.36],[-13.66,-2.92],[-13.12,-2.84],[-12.59,-3.57],[-11.94,-2.92],[-11.33,-2.76],[-10.37,-3.24],[-13.73,-3.44]];
const aggBottomLeft=[[-14.74,-9.14],[-14.45,-8.74],[-13.95,-9.02],[-13.48,-8.74],[-13.02,-8.82],[-12.41,-8.9],[-12.05,-9.3],[-15.02,-9.82],[-14.56,-10.02],[-14.02,-9.82],[-13.48,-9.62],[-13.02,-10.02],[-12.59,-9.82],[-11.87,-9.82],[-11.44,-10.41],[-15.02,-10.61],[-14.45,-10.73],[-13.95,-10.41],[-13.48,-10.81],[-12.88,-10.61],[-12.3,-10.33],[-11.87,-10.73],[-14.81,-11.53],[-14.2,-11.21],[-13.66,-11.69],[-13.02,-11.41],[-12.3,-11.53],[-13.3,-11.01]];
const aggBig=[[-3.71,-1.32],[-2.56,-1.12],[-1.67,-1.56],[-0.41,-1.76],[-4.89,-1.56],[-5.6,-1.44],[-9.54,-2.76],[-9.01,-3.24],[-7.93,-2.92],[-7.04,-2.44],[-6.14,-2.36],[-5.07,-2.24],[-4.35,-1.96],[-3.46,-2.04],[-2.92,-2.44],[-2.2,-2.24],[-1.49,-1.96],[-0.77,-2.04],[0.13,-2.24],[0.66,-2.64],[1.38,-2.84],[2.09,-2.92],[2.81,-3.24],[-8.65,-3.72],[-7.86,-4.04],[-6.93,-3.44],[-6.32,-3.84],[-5.6,-3.64],[-4.78,-3.56],[-4.0,-3.44],[-3.28,-3.64],[-2.38,-3.64],[-1.77,-3.32],[-0.95,-3.72],[-0.05,-3.44],[0.66,-3.84],[1.31,-3.64],[2.17,-3.44],[3.17,-3.96],[3.89,-4.04],[-9.72,-5.03],[-8.93,-5.23],[-8.11,-4.63],[-7.29,-4.83],[-6.5,-4.43],[-5.78,-4.83],[-5.07,-4.63],[-4.28,-4.83],[-3.56,-4.43],[-2.74,-5.03],[-2.02,-4.63],[-1.2,-4.91],[-0.48,-4.43],[0.23,-4.91],[1.02,-4.75],[1.74,-5.03],[2.45,-4.83],[3.35,-4.63],[4.24,-4.51],[-9.36,-6.03],[-8.65,-5.83],[-7.75,-6.23],[-6.93,-5.63],[-6.14,-6.11],[-5.43,-5.83],[-4.64,-6.03],[-3.81,-5.63],[-2.99,-6.23],[-2.27,-5.83],[-1.49,-6.03],[-0.77,-5.63],[0.02,-6.23],[0.84,-5.83],[1.67,-6.03],[2.38,-5.63],[3.24,-6.23],[3.96,-5.83],[4.78,-6.03],[5.0,-6.6],[-9.72,-6.91],[-8.93,-7.22],[-8.11,-6.83],[-7.29,-7.22],[-6.5,-6.75],[-5.71,-7.14],[-4.89,-6.83],[-4.07,-7.22],[-3.28,-6.91],[-2.49,-7.14],[-1.67,-6.62],[-0.84,-7.22],[-0.05,-6.83],[0.66,-7.22],[1.45,-6.75],[2.27,-7.14],[2.99,-6.91],[3.89,-7.22],[4.88,-7.03],[-9.19,-8.02],[-8.36,-8.34],[-7.57,-7.82],[-6.79,-8.22],[-5.96,-7.94],[-5.14,-8.34],[-4.35,-8.02],[-3.56,-8.42],[-2.74,-7.94],[-1.92,-8.34],[-1.13,-8.02],[-0.34,-8.5],[0.48,-8.02],[1.31,-8.42],[2.09,-8.1],[2.88,-8.5],[3.71,-8.02],[4.42,-8.42],[-8.65,-9.3],[-7.86,-9.62],[-7.04,-9.14],[-6.21,-9.54],[-5.43,-9.22],[-4.64,-9.62],[-3.81,-9.14],[-2.99,-9.54],[-2.2,-9.3],[-1.41,-9.7],[-0.59,-9.22],[0.23,-9.54],[1.02,-9.22],[1.81,-9.62],[2.63,-9.3],[3.46,-9.62],[4.17,-9.14],[-7.57,-10.41],[-6.68,-10.73],[-5.86,-10.33],[-5.07,-10.81],[-4.28,-10.49],[-3.46,-10.89],[-2.63,-10.41],[-1.84,-10.81],[-1.06,-10.49],[-0.23,-10.89],[0.59,-10.41],[1.38,-10.81],[2.17,-10.49],[2.99,-10.81],[-5.43,-11.69],[-4.64,-11.81],[-3.71,-11.53],[-2.92,-12.01],[-2.02,-12.21],[-1.2,-11.93],[-0.34,-12.01],[0.48,-11.69],[1.31,-11.53],[2.09,-11.61]];

// ---------- (f) Compound ----------
const compTeal=[[-13.75,8.74],[-13.9,7.15],[-13.29,5.38],[-12.55,10.2],[-12.4,8.6],[-12.48,7.82],[-12.48,6.56],[-11.62,4.26],[-11.52,9.25],[-11.41,8.18],[-11.34,7.34],[-11.16,5.16],[-11.27,6.37],[-10.7,8.52],[-10.56,7.62],[-10.45,7.2],[-10.34,7.76],[-10.27,7.96],[-9.99,8.41],[-10.1,6.17],[-9.95,5.16],[-9.63,9.69],[-9.56,7.85],[-9.49,5.89],[-9.13,8.97],[-9.13,6.73],[-9.13,3.7],[-8.78,7.91],[-8.74,5.44],[-8.03,10.15],[-7.96,8.52],[-7.85,6.84],[-7.71,4.26],[-6.64,9.53],[-6.89,5.81],[-6.22,7.74],[-11.23,10.76],[-10.59,9.44],[-10.13,7.54],[-10.41,7.06],[-9.85,7.4]];
const compOlive=[[-5.33,4.04],[-5.29,6.7],[-4.87,7.85],[-4.58,2.89],[-4.22,5.89],[-4.05,4.74],[-3.94,6.78],[-3.66,3.85],[-3.45,8.52],[-3.16,5.44],[-3.16,7.4],[-3.09,2.19],[-2.95,5.04],[-2.81,8.6],[-2.63,6.09],[-2.52,5.53],[-2.63,3.42],[-2.52,6.56],[-2.38,5.61],[-2.31,7.34],[-2.2,5.33],[-2.02,5.89],[-1.92,4.69],[-1.81,2.08],[-1.74,8.27],[-1.67,9.08],[-1.67,5.67],[-1.56,9.25],[-1.38,3.56],[-1.31,7.06],[-1.21,6.22],[-1.03,6.78],[-0.49,2.08],[-0.49,7.76],[-0.6,4.12],[-0.07,9.02],[0.15,5.1],[0.22,6.59],[0.25,7.76],[0.57,3.23],[1.18,7.85],[-4.65,8.6],[-3.69,7.2]];
const compOrange=[[-12.41,0.26],[-11.62,0.57],[-10.98,0.4],[-10.27,0.68],[-9.56,0.91],[-8.92,0.85],[-8.14,0.48],[-7.36,0.48],[-6.72,0.34],[-6.18,0.29],[-5.65,0.2],[-12.84,-0.22],[-12.05,-0.08],[-11.34,0.06],[-10.7,-0.16],[-9.92,0.12],[-9.28,0.01],[-8.56,-0.16],[-7.85,-0.27],[-7.14,-0.36],[-6.43,-0.27],[-5.72,-0.36],[-5.01,-0.44],[-4.23,-0.44],[-13.12,-0.97],[-12.34,-0.78],[-11.62,-0.83],[-10.91,-0.64],[-10.2,-0.5],[-9.49,-0.64],[-8.78,-0.44],[-8.07,-0.78],[-7.36,-0.72],[-6.64,-1.11],[-5.93,-1.06],[-5.29,-1.19],[-4.59,-0.97],[-3.8,-0.83],[-13.12,-1.75],[-12.41,-1.39],[-11.77,-1.89],[-10.98,-1.39],[-10.34,-1.62],[-9.63,-1.19],[-9.03,-1.75],[-8.32,-1.11],[-7.78,-1.48],[-6.89,-1.19],[-6.18,-1.34],[-5.47,-1.67],[-4.94,-1.48],[-4.23,-1.67],[-3.69,-1.62],[-12.76,-2.31],[-12.12,-2.6],[-11.52,-1.95],[-10.91,-2.31],[-10.27,-2.46],[-9.56,-2.17],[-4.23,-2.17],[-3.69,-2.4],[-3.34,-2.79],[-5.01,-2.03],[-9.21,-2.46],[-9.21,-3.29],[-12.34,-2.88],[-11.69,-3.29],[-11.05,-3.07],[-10.41,-3.43],[-9.85,-3.02],[-3.95,-3.29],[-3.34,-3.57],[-2.63,-3.29],[-2.09,-3.57],[-1.67,-3.71],[-11.77,-3.85],[-11.13,-4.19],[-10.56,-3.99],[-9.92,-4.36],[-9.21,-4.64],[-4.23,-4.41],[-3.59,-4.19],[-2.88,-3.99],[-2.27,-4.41],[-1.56,-4.19],[-11.69,-4.92],[-11.16,-5.4],[-10.45,-4.98],[-9.56,-5.12],[-8.85,-5.31],[-8.14,-5.68],[-7.61,-5.26],[-6.89,-5.4],[-6.29,-5.54],[-5.65,-5.12],[-5.01,-5.31],[-4.41,-5.12],[-3.69,-5.2],[-2.98,-4.98],[-2.09,-4.98],[-1.45,-4.92],[-10.63,-6.24],[-9.92,-5.96],[-9.13,-6.1],[-8.42,-6.15],[-7.71,-6.38],[-7.0,-6.24],[-6.18,-5.96],[-5.47,-6.15],[-4.76,-6.38],[-3.95,-5.96],[-3.16,-5.87],[-2.38,-6.24],[-1.74,-5.82],[-9.74,-6.52],[-9.03,-6.6],[-8.21,-6.65],[-7.5,-6.65],[-6.64,-6.6],[-5.83,-6.88],[-5.01,-6.88],[-4.23,-7.07],[-3.52,-6.99],[-2.81,-6.79]];
const compYellow=[[-7.68,-3.29],[-7.5,-2.96],[-7.36,-3.57],[-7.14,-2.74],[-7.07,-3.16],[-6.89,-3.52],[-6.72,-2.88],[-6.64,-3.29],[-6.43,-3.63],[-6.36,-2.68],[-6.18,-3.07],[-6.01,-3.43],[-5.93,-2.79],[-5.72,-3.23],[-5.58,-2.96],[-7.78,-3.07],[-7.25,-3.35],[-6.79,-3.71],[-6.08,-3.71],[-6.54,-2.6]];
const compBlue=[[5.98,7.2],[9.0,6.62],[6.65,5.74],[10.46,5.19],[13.34,5.94],[14.69,5.81],[12.13,4.88],[17.92,5.1],[15.4,4.6],[21.23,4.21],[5.48,4.13],[8.71,4.43],[13.94,3.62],[19.67,2.97],[17.04,2.83],[6.72,3.06],[8.68,2.25],[5.41,1.74],[20.94,1.52],[18.56,1.01],[7.01,0.68],[4.98,-0.05],[20.52,-0.5],[5.83,-1.17],[7.93,-1.67],[14.01,-1.45],[18.03,-1.95],[16.2,-2.88],[4.52,-2.96],[6.65,-3.29],[8.79,-3.57],[14.01,-3.57],[19.7,-3.57],[12.02,-4.13],[17.92,-4.72],[15.72,-5.03],[4.8,-5.26],[9.96,-5.4],[6.72,-5.54],[12.91,-6.11],[15.15,-6.65],[17.53,-6.82],[19.77,-6.65],[3.59,-6.99],[5.62,-7.13],[8.5,-7.13],[11.24,-7.72],[14.05,-8.45],[16.54,-8.81],[18.31,-9.15]];
const compCyan=[[10.99,3.2],[11.42,3.48],[11.95,3.42],[11.13,2.81],[11.7,3.0],[12.2,2.81],[11.34,2.44],[11.84,2.36],[11.13,2.02],[11.59,2.02],[12.13,2.02],[12.55,2.02],[13.02,2.02],[13.37,1.97],[13.84,2.16],[14.33,2.08],[14.9,1.97],[12.84,1.6],[13.27,1.69],[13.73,1.6],[14.19,1.6],[14.62,1.46],[15.15,1.46],[15.51,1.32],[15.86,1.18],[16.22,1.04],[13.27,1.24],[13.62,1.32],[14.08,1.18],[14.55,1.04],[14.97,0.91],[15.33,0.62],[15.68,0.76],[16.11,0.48],[16.47,0.62],[16.75,0.48],[16.93,0.12],[16.57,-0.36],[16.22,-0.72],[15.68,-0.55],[15.15,-0.22],[14.69,0.2],[14.26,0.4],[13.84,0.62],[13.37,0.62],[12.91,0.48],[12.48,0.48],[15.86,0.06],[16.32,0.06],[15.33,0.2],[9.82,1.41],[10.28,1.24],[10.71,1.18],[11.27,1.32],[11.77,1.24],[12.2,1.18],[9.28,0.96],[9.71,0.91],[10.17,0.76],[10.63,0.68],[11.13,0.85],[11.59,0.76],[12.06,0.91],[12.48,0.91],[8.93,0.48],[9.46,0.4],[9.99,0.34],[10.42,0.2],[10.99,0.4],[11.42,0.29],[11.95,0.48],[9.0,0.01],[9.59,-0.08],[10.06,-0.16],[10.52,-0.22],[11.06,-0.08],[11.59,-0.16],[12.13,0.06],[9.11,-0.5],[9.64,-0.64],[10.17,-0.55],[10.71,-0.72],[11.27,-0.64],[11.7,-0.78],[9.36,-1.06],[9.92,-1.11],[10.42,-1.19],[10.99,-1.06],[11.49,-1.19],[11.95,-1.06],[9.64,-1.56],[10.17,-1.67],[10.71,-1.75],[11.27,-1.62],[11.77,-1.62],[10.28,-2.03],[10.78,-2.23],[11.34,-2.31],[11.95,-2.03],[11.42,-1.89]];

// ---------- labels ----------
const captions=[['(a)','Spiral'],['(b)','Flame'],['(c)','R15'],['(d)','Jain'],['(e)','Aggregation'],['(f)','Compound']];

// ---------- drawing ----------
const W=1322,H=804;
const EDGE='#3c3c3c';
function circ(c){return {symbol:'circle',size:5.3,color:c,line:{color:EDGE,width:0.5}};}
function dot(c){return {symbol:'circle',size:3.6,color:c,line:{width:0}};}
function tr(arr,n,marker){const s=n===1?'':String(n);return {type:'scatter',mode:'markers',x:arr.map(p=>p[0]),y:arr.map(p=>p[1]),xaxis:'x'+s,yaxis:'y'+s,marker:marker,hoverinfo:'skip',showlegend:false,cliponaxis:true};}

const traces=[
 tr(spiralBlue,1,circ('#1B95D3')),tr(spiralOlive,1,circ('#8FAF5F')),tr(spiralYellow,1,circ('#F3F310')),
 tr(flameYellow,2,circ('#F5F210')),tr(flameTeal,2,circ('#25A89B')),
 tr(r15Top,3,circ('#FAC22E')),tr(r15TopRight,3,circ('#F6DE1C')),tr(r15LeftTop,3,circ('#F0B43A')),
 tr(r15Right,3,circ('#4DBA86')),tr(r15LeftBottom,3,circ('#CDB845')),tr(r15BottomRight,3,circ('#6DBC6E')),
 tr(r15Bottom,3,circ('#A3BE58')),tr(r15InTop,3,circ('#1EB0B6')),tr(r15InUpRight,3,circ('#31B79B')),
 tr(r15InRight,3,circ('#1464DA')),tr(r15InLowRight,3,circ('#1A72DD')),tr(r15InLowLeft,3,circ('#1B86D5')),
 tr(r15InLeft,3,circ('#1797CB')),tr(r15InUpLeft,3,circ('#14A6C6')),tr(r15Center,3,circ('#3A3EB2')),
 tr(jainOrange,4,{symbol:'triangle-right-open',size:9,color:'#D95319',line:{width:1}}),
 tr(jainBlue,4,{symbol:'asterisk-open',size:9,color:'#0072BD',line:{width:1}}),
 tr(aggTopLeft,5,circ('#1F7FC8')),tr(aggTopMid,5,circ('#155FCF')),tr(aggTopRight,5,circ('#F5B23A')),
 tr(aggBottomRight,5,circ('#17A4B5')),tr(aggSmallLeft,5,circ('#F4F013')),tr(aggBottomLeft,5,circ('#B7AE58')),
 tr(aggBig,5,circ('#5DB67E')),
 tr(compTeal,6,dot('#22B9A3')),tr(compOlive,6,dot('#9ABF5E')),tr(compOrange,6,dot('#F8A833')),
 tr(compYellow,6,dot('#F3F314')),tr(compBlue,6,dot('#1880E5')),tr(compCyan,6,dot('#1AA8DC'))
];

function ticks(a,b,s){const v=[];for(let t=a;t<=b+1e-9;t+=s)v.push(t);return v;}
function axis(dom,range,step,anchor){
 const tv=ticks(range[0],range[1],step);
 return {domain:dom,range:range,anchor:anchor,tickmode:'array',tickvals:tv,ticktext:tv.map(v=>String(v)),
  ticks:'inside',ticklen:4,tickwidth:1,tickcolor:'#262626',showline:true,linecolor:'#262626',linewidth:1,
  mirror:'ticks',zeroline:false,showgrid:false,fixedrange:true,
  tickfont:{family:'Liberation Sans',size:11,color:'#262626'}};
}
const px=v=>v/W, py=v=>1-v/H;
const layout={width:W,height:H,margin:{l:0,r:0,t:0,b:0},paper_bgcolor:'#fff',plot_bgcolor:'#fff',showlegend:false,
 xaxis:axis([px(85.7),px(447)],[-15,20],5,'y'), yaxis:axis([py(296),py(12.3)],[-15,20],5,'x'),
 xaxis2:axis([px(505.7),px(865.7)],[-8,8],2,'y2'), yaxis2:axis([py(295.7),py(11.7)],[-8,8],2,'x2'),
 xaxis3:axis([px(947.3),px(1307.3)],[-8,8],2,'y3'), yaxis3:axis([py(295.7),py(11.7)],[-8,8],2,'x3'),
 xaxis4:axis([px(45),px(446)],[-15,25],5,'y4'), yaxis4:axis([py(724.3),py(406.7)],[-10,15],5,'x4'),
 xaxis5:axis([px(501),px(873.3)],[-20,20],5,'y5'), yaxis5:axis([py(705),py(412.3)],[-15,20],5,'x5'),
 xaxis6:axis([px(925.7),px(1300.7)],[-15,25],5,'y6'), yaxis6:axis([py(706.7),py(409)],[-10,15],5,'x6'),
 annotations:[]};

const axisFont={family:'Liberation Sans',size:13,color:'#262626'};
const xLab=[[266,324],[685.7,323],[1127.3,323],[245.7,758],[687,736],[1113,735]];
const yLab=[[55,154],[481,153],[921.7,154],[13.3,558],[470,558],[892.7,557]];
xLab.forEach(p=>layout.annotations.push({text:'X',x:px(p[0]),y:py(p[1]),xref:'paper',yref:'paper',showarrow:false,font:axisFont,xanchor:'center',yanchor:'middle'}));
yLab.forEach(p=>layout.annotations.push({text:'Y',x:px(p[0]),y:py(p[1]),xref:'paper',yref:'paper',showarrow:false,font:axisFont,textangle:-90,xanchor:'center',yanchor:'middle'}));
const capPos=[[255,356],[690,356],[1127,356],[249,788],[685,788],[1120,788]];
captions.forEach((c,i)=>layout.annotations.push({text:'<b>'+c[0]+'</b>&nbsp; '+c[1],x:px(capPos[i][0]),y:py(capPos[i][1]),xref:'paper',yref:'paper',showarrow:false,
 font:{family:'Liberation Serif',size:25,color:'#111'},xanchor:'center',yanchor:'middle'}));

Plotly.newPlot('chart',traces,layout,{staticPlot:true,displayModeBar:false});
</script></body></html>
